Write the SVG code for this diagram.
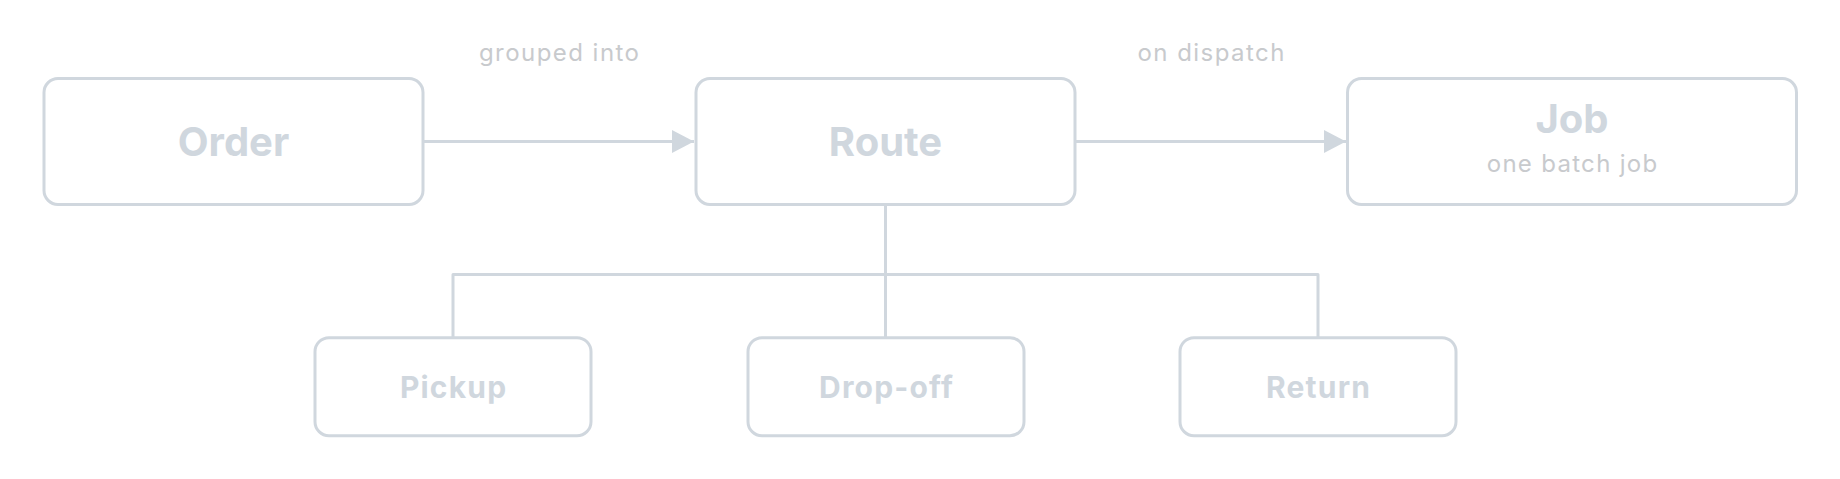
<svg xmlns="http://www.w3.org/2000/svg" width="1840" height="479" viewBox="0 0 1840 479">
<defs>
<style>
.box{fill:#ffffff;stroke:#d0d7de;stroke-width:3}
.title{font-family:Inter,"Liberation Sans",sans-serif;font-weight:700;font-size:40px;fill:#d0d7de;text-anchor:middle}
.child{font-family:Inter,"Liberation Sans",sans-serif;font-weight:700;font-size:30px;letter-spacing:1.2px;fill:#d0d7de;text-anchor:middle}
.sub{font-family:Inter,"Liberation Sans",sans-serif;font-weight:400;font-size:24px;letter-spacing:1.3px;fill:#c8cacd;text-anchor:middle}
.lbl{font-family:Inter,"Liberation Sans",sans-serif;font-weight:400;font-size:24px;letter-spacing:1.45px;fill:#c8cacd;text-anchor:middle}
.edge{fill:none;stroke:#d0d7de;stroke-width:3;stroke-linejoin:round}
</style>
<marker id="arr" markerUnits="userSpaceOnUse" markerWidth="22" markerHeight="23" refX="22" refY="11.5" orient="auto">
<path d="M0,0 L22,11.5 L0,23 Z" fill="#d0d7de"/>
</marker>
</defs>
<rect width="1840" height="479" fill="#ffffff"/>
<g id="connectors">
<line class="edge" x1="423" y1="141.5" x2="694" y2="141.5" marker-end="url(#arr)"/>
<line class="edge" x1="1075" y1="141.5" x2="1346" y2="141.5" marker-end="url(#arr)"/>
<path class="edge" d="M885.5,204.5 V337.7"/>
<path class="edge" d="M453,337.7 V274.5 H1318 V337.7"/>
<text class="lbl" x="559.7" y="60.5">grouped into</text>
<text class="lbl" x="1211.7" y="60.5">on dispatch</text>
</g>
<g id="node-order">
<rect class="box" x="44" y="78.5" width="379" height="126" rx="14"/>
<text class="title" x="233.5" y="156">Order</text>
</g>
<g id="node-route">
<rect class="box" x="696" y="78.5" width="379" height="126" rx="14"/>
<text class="title" x="885.5" y="156">Route</text>
</g>
<g id="node-job">
<rect class="box" x="1347.5" y="78.5" width="449" height="126" rx="14"/>
<text class="title" x="1572" y="132.7">Job</text>
<text class="sub" x="1572.6" y="171.7">one batch job</text>
</g>
<g id="node-pickup">
<rect class="box" x="315" y="337.7" width="276" height="98" rx="14"/>
<text class="child" x="453.6" y="398.3">Pickup</text>
</g>
<g id="node-dropoff">
<rect class="box" x="748" y="337.7" width="276" height="98" rx="14"/>
<text class="child" x="886.6" y="398.3">Drop-off</text>
</g>
<g id="node-return">
<rect class="box" x="1180" y="337.7" width="276" height="98" rx="14"/>
<text class="child" x="1318.6" y="398.3">Return</text>
</g>
</svg>
